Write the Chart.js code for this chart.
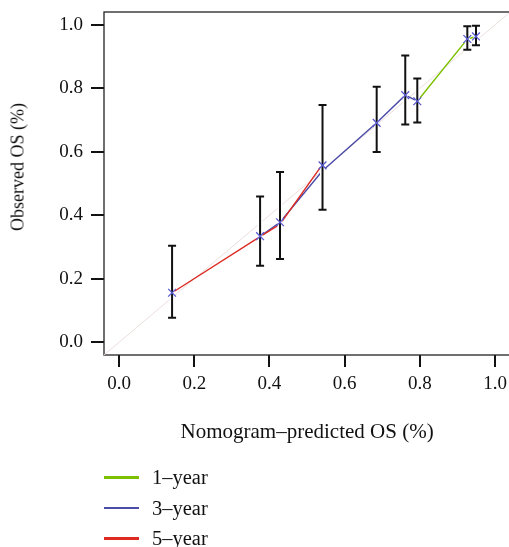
<!DOCTYPE html>
<html>
<head>
<meta charset="utf-8">
<script src="https://cdn.jsdelivr.net/npm/chart.js@4/dist/chart.umd.min.js"></script>
<style>
  html, body { margin: 0; padding: 0; background: #fff; overflow: hidden; }
  #wrap { position: relative; width: 509px; height: 547px; overflow: hidden; }
  #chart { position: absolute; left: 0; top: 0; }
  #ytitle {
    position: absolute; left: 18px; top: 167px;
    transform: translate(-50%, -50%) rotate(-90deg);
    font: 18px "Liberation Serif", serif; color: #111; white-space: nowrap;
  }
  #legend { position: absolute; left: 104px; top: 462px; font: 20.5px "Liberation Serif", serif; color: #111; }
  #legend .row { display: flex; align-items: center; height: 30.7px; }
  #legend .swatch { width: 35px; height: 2.5px; margin-right: 13px; }
</style>
</head>
<body>
<div id="wrap">
  <canvas id="chart" width="517" height="547"></canvas>
  <div id="ytitle">Observed OS (%)</div>
  <div id="legend"></div>
</div>
<script>
// 축 눈금
const xTicks = [0, 0.2, 0.4, 0.6, 0.8, 1.0];
const yTicks = [0, 0.2, 0.4, 0.6, 0.8, 1.0];

const groupPred = [0.141, 0.375, 0.428, 0.541, 0.685, 0.761, 0.793, 0.926, 0.949];
const groupObs  = [0.156, 0.334, 0.378, 0.557, 0.691, 0.778, 0.759, 0.955, 0.963];
const groupLow  = [0.077, 0.241, 0.262, 0.417, 0.599, 0.686, 0.692, 0.921, 0.935];
const groupHigh = [0.304, 0.459, 0.536, 0.747, 0.805, 0.903, 0.831, 0.995, 0.997];

// 보정 곡선
const seriesNames = ['1\u2013year', '3\u2013year', '5\u2013year'];
const seriesColors = ['#7cc000', '#4b4ba8', '#dd2b22'];
const year1Pred = [0.793, 0.926, 0.949];
const year1Obs  = [0.759, 0.955, 0.963];
const year3Pred = [0.375, 0.428, 0.541, 0.685, 0.761, 0.793];
const year3Obs  = [0.334, 0.378, 0.540, 0.691, 0.778, 0.759];
const year5Pred = [0.141, 0.375, 0.428, 0.541];
const year5Obs  = [0.156, 0.333, 0.372, 0.560];

const axisMin = -0.04, axisMax = 1.04;

function pts(xs, ys) {
  return xs.map((x, i) => ({ x, y: ys[i] }));
}

// 오차막대: 하한-상한 쌍 사이에 null 을 넣어 끊는다
const errData = [];
groupPred.forEach((x, i) => {
  errData.push({ x, y: groupLow[i] }, { x, y: groupHigh[i] }, { x, y: null });
});

const frame = {
  id: 'frame',
  beforeDatasetsDraw(chart) {
    const { ctx, chartArea: a } = chart;
    ctx.save();
    ctx.strokeStyle = '#222';
    ctx.lineWidth = 1.3;
    ctx.strokeRect(a.left, a.top, a.right - a.left, a.bottom - a.top);
    ctx.restore();
  }
};

// 라벨 넘침 여백 제거 (플롯 영역 위치 고정)
function noPad(s) {
  s.paddingTop = 0; s.paddingBottom = 0; s.paddingLeft = 0; s.paddingRight = 0;
}

const lineCfg = (label, data, color) => ({
  label, data, showLine: true, borderColor: color, borderWidth: 1.4,
  pointRadius: 0, order: 4
});

new Chart(document.getElementById('chart'), {
  type: 'scatter',
  data: {
    datasets: [
      { label: 'ideal', data: pts([axisMin, axisMax], [axisMin, axisMax]), showLine: true,
        borderColor: '#ecdede', borderWidth: 1, pointRadius: 0, order: 5 },
      lineCfg(seriesNames[2], pts(year5Pred, year5Obs), seriesColors[2]),
      lineCfg(seriesNames[1], pts(year3Pred, year3Obs), seriesColors[1]),
      lineCfg(seriesNames[0], pts(year1Pred, year1Obs), seriesColors[0]),
      { label: 'halo', data: errData, showLine: true, borderColor: '#fff', borderWidth: 5,
        pointRadius: 0, order: 3 },
      { label: 'err', data: errData, showLine: true, borderColor: '#111', borderWidth: 2,
        pointStyle: 'line', pointRadius: 4, pointBorderColor: '#111', pointBorderWidth: 2, order: 2 },
      { label: 'obs', data: pts(groupPred, groupObs), pointStyle: 'crossRot', pointRadius: 5.5,
        pointBorderColor: '#5a5ad0', pointBorderWidth: 1.3, order: 1 }
    ]
  },
  options: {
    responsive: false,
    animation: false,
    events: [],
    layout: { padding: { left: 0, top: 12, right: 2, bottom: 92 } },
    plugins: { legend: { display: false }, tooltip: { enabled: false } },
    scales: {
      x: {
        type: 'linear', min: axisMin, max: axisMax,
        afterBuildTicks: s => { s.ticks = xTicks.map(v => ({ value: v })); },
        afterFit: s => { s.height = 100; noPad(s); },
        ticks: { callback: v => v.toFixed(1), color: '#111', padding: 6,
                 font: { family: 'Liberation Serif', size: 19 }, maxRotation: 0 },
        grid: { drawOnChartArea: false, drawTicks: true, tickLength: 12, color: '#111', lineWidth: 2 },
        border: { display: false },
        title: { display: true, text: 'Nomogram\u2013predicted OS (%)', color: '#111',
                 font: { family: 'Liberation Serif', size: 21 }, padding: { top: 0, bottom: 10 } }
      },
      y: {
        type: 'linear', min: axisMin, max: axisMax,
        afterBuildTicks: s => { s.ticks = yTicks.map(v => ({ value: v })); },
        afterFit: s => { s.width = 104; noPad(s); },
        ticks: { callback: v => v.toFixed(1), color: '#111', padding: 8,
                 font: { family: 'Liberation Serif', size: 19 } },
        grid: { drawOnChartArea: false, drawTicks: true, tickLength: 13, color: '#111', lineWidth: 2 },
        border: { display: false }
      }
    }
  },
  plugins: [frame]
});

// 범례
const legend = document.getElementById('legend');
seriesNames.forEach((name, i) => {
  const row = document.createElement('div');
  row.className = 'row';
  const sw = document.createElement('span');
  sw.className = 'swatch';
  sw.style.background = seriesColors[i];
  const tx = document.createElement('span');
  tx.textContent = name;
  row.appendChild(sw);
  row.appendChild(tx);
  legend.appendChild(row);
});
</script>
</body>
</html>
